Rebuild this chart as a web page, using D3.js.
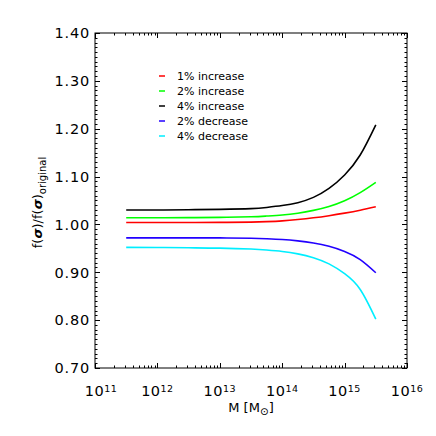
<!DOCTYPE html>
<meta charset="utf-8"/>
<html>
  <head>
    <script src="https://d3js.org/d3.v7.min.js"></script>
    <style>
      body { margin: 0; background: white; }
      text { font-family: 'DejaVu Sans', sans-serif; fill: black; }
    </style>
  </head>
  <body>
<script type="text/javascript">
var W = 436, H = 436;
var margin = {top: 33, right: 29, bottom: 68, left: 95};
var width = W - margin.left - margin.right;
var height = H - margin.top - margin.bottom;

// log10(M) sample points
var logM = [11.5, 12.0, 12.5, 13.0, 13.5, 13.75, 14.0, 14.25, 14.5, 14.75, 15.0, 15.25, 15.5];
var inc1 = [1.004, 1.004, 1.004, 1.0042, 1.0048, 1.0058, 1.0075, 1.0102, 1.0138, 1.0183, 1.0236, 1.0297, 1.037];
var inc2 = [1.014, 1.014, 1.0142, 1.0147, 1.016, 1.0175, 1.0197, 1.0235, 1.0293, 1.0375, 1.0495, 1.0665, 1.088];
var inc4 = [1.030, 1.0302, 1.0307, 1.0315, 1.033, 1.0355, 1.0395, 1.0455, 1.0565, 1.0753, 1.1033, 1.145, 1.208];
var dec2 = [0.972, 0.972, 0.972, 0.9718, 0.9712, 0.9702, 0.9685, 0.9656, 0.9612, 0.9543, 0.9435, 0.9265, 0.899];
var dec4 = [0.952, 0.9518, 0.9512, 0.9505, 0.9485, 0.9465, 0.9435, 0.9385, 0.9305, 0.9175, 0.897, 0.864, 0.802];
var seriesNames = ['1% increase', '2% increase', '4% increase', '2% decrease', '4% decrease'];
var seriesColors = ['#ff0000', '#00ff00', '#000000', '#2200ff', '#00eeff'];
var seriesValues = [inc1, inc2, inc4, dec2, dec4];
var yTicks = [0.70, 0.80, 0.90, 1.00, 1.10, 1.20, 1.30, 1.40];
var xDecades = [11, 12, 13, 14, 15, 16];

var svg = d3.select('body').append('svg')
    .attr('width', W)
    .attr('height', H);
var g = svg.append('g').attr('transform', 'translate(' + margin.left + ',' + margin.top + ')');

var x = d3.scaleLog().domain([1e11, 1e16]).range([0, width]);
var y = d3.scaleLinear().domain([0.70, 1.40]).range([height, 0]);

// frame
g.append('rect')
    .attr('width', width).attr('height', height)
    .attr('fill', 'none').attr('stroke', 'black').attr('stroke-width', 1);

// x ticks (bottom + top)
var xMinor = [];
xDecades.slice(0, -1).forEach(function(e) {
  for (var k = 2; k <= 9; k++) xMinor.push(k * Math.pow(10, e));
});
var xMajor = xDecades.map(function(e) { return Math.pow(10, e); });
[[xMajor, 5], [xMinor, 2.5]].forEach(function(p) {
  p[0].forEach(function(d) {
    var xx = Math.round(x(d)) + 0.5;
    g.append('line').attr('x1', xx).attr('x2', xx).attr('y1', height).attr('y2', height - p[1]).attr('stroke', 'black');
    g.append('line').attr('x1', xx).attr('x2', xx).attr('y1', 0).attr('y2', p[1]).attr('stroke', 'black');
  });
});

// y ticks (left + right)
d3.range(70, 141).forEach(function(i) {
  var v = i / 100;
  var len = (i % 10 === 0) ? 5 : 2.5;
  var yy = Math.round(y(v)) + 0.5;
  g.append('line').attr('x1', 0).attr('x2', len).attr('y1', yy).attr('y2', yy).attr('stroke', 'black');
  g.append('line').attr('x1', width).attr('x2', width - len).attr('y1', yy).attr('y2', yy).attr('stroke', 'black');
});

// y tick labels
g.selectAll('.ylab').data(yTicks).enter().append('text')
    .attr('x', -5).attr('y', function(d) { return y(d); })
    .attr('dy', '0.36em')
    .attr('text-anchor', 'end')
    .style('font-size', '14.5px')
    .style('letter-spacing', '0.8px')
    .text(function(d) { return d.toFixed(2); });

// x tick labels
xDecades.forEach(function(e, i) {
  var t = g.append('text')
      .attr('x', x(Math.pow(10, e)) + (i === 0 ? 6 : 0))
      .attr('y', height + 28)
      .attr('text-anchor', 'middle')
      .style('font-size', '14.5px')
      .style('letter-spacing', '0.5px');
  t.append('tspan').text('10');
  t.append('tspan').attr('dy', '-4').style('font-size', '9.5px').text(e);
});

// axis titles
var xt = g.append('text')
    .attr('x', width / 2).attr('y', height + 44)
    .attr('text-anchor', 'middle')
    .style('font-size', '13px');
xt.append('tspan').text('M  [M');
xt.append('tspan').attr('dy', '3').style('font-size', '10.5px').text('\u2299');
xt.append('tspan').attr('dy', '-3').text(']');

var yt = svg.append('text')
    .attr('transform', 'translate(' + 42 + ',' + (margin.top + height / 2 + 2) + ') rotate(-90)')
    .attr('text-anchor', 'middle')
    .style('font-size', '13px');
yt.append('tspan').text('f(');
yt.append('tspan').style('font-style', 'italic').style('font-weight', 'bold').text('\u03c3');
yt.append('tspan').text(')/f(');
yt.append('tspan').style('font-style', 'italic').style('font-weight', 'bold').text('\u03c3');
yt.append('tspan').text(')');
yt.append('tspan').attr('dy', '4').style('font-size', '10px').text('original');

// curves
var line = d3.line()
    .x(function(d) { return x(Math.pow(10, d[0])); })
    .y(function(d) { return y(d[1]); })
    .curve(d3.curveNatural);
seriesValues.forEach(function(vals, i) {
  g.append('path')
      .attr('d', line(logM.map(function(m, j) { return [m, vals[j]]; })))
      .attr('fill', 'none')
      .attr('stroke', seriesColors[i])
      .attr('stroke-width', 1.6);
});

// legend
var legend = g.append('g').attr('transform', 'translate(' + (159 - margin.left) + ',' + (76 - margin.top) + ')');
seriesNames.forEach(function(name, i) {
  legend.append('line')
      .attr('x1', 0).attr('x2', 6)
      .attr('y1', i * 15).attr('y2', i * 15)
      .attr('stroke', seriesColors[i]).attr('stroke-width', 1.5);
  legend.append('text')
      .attr('x', 18).attr('y', i * 15)
      .attr('dy', '0.36em')
      .style('font-size', '11px')
      .text(name);
});
</script>
  </body>
</html>
